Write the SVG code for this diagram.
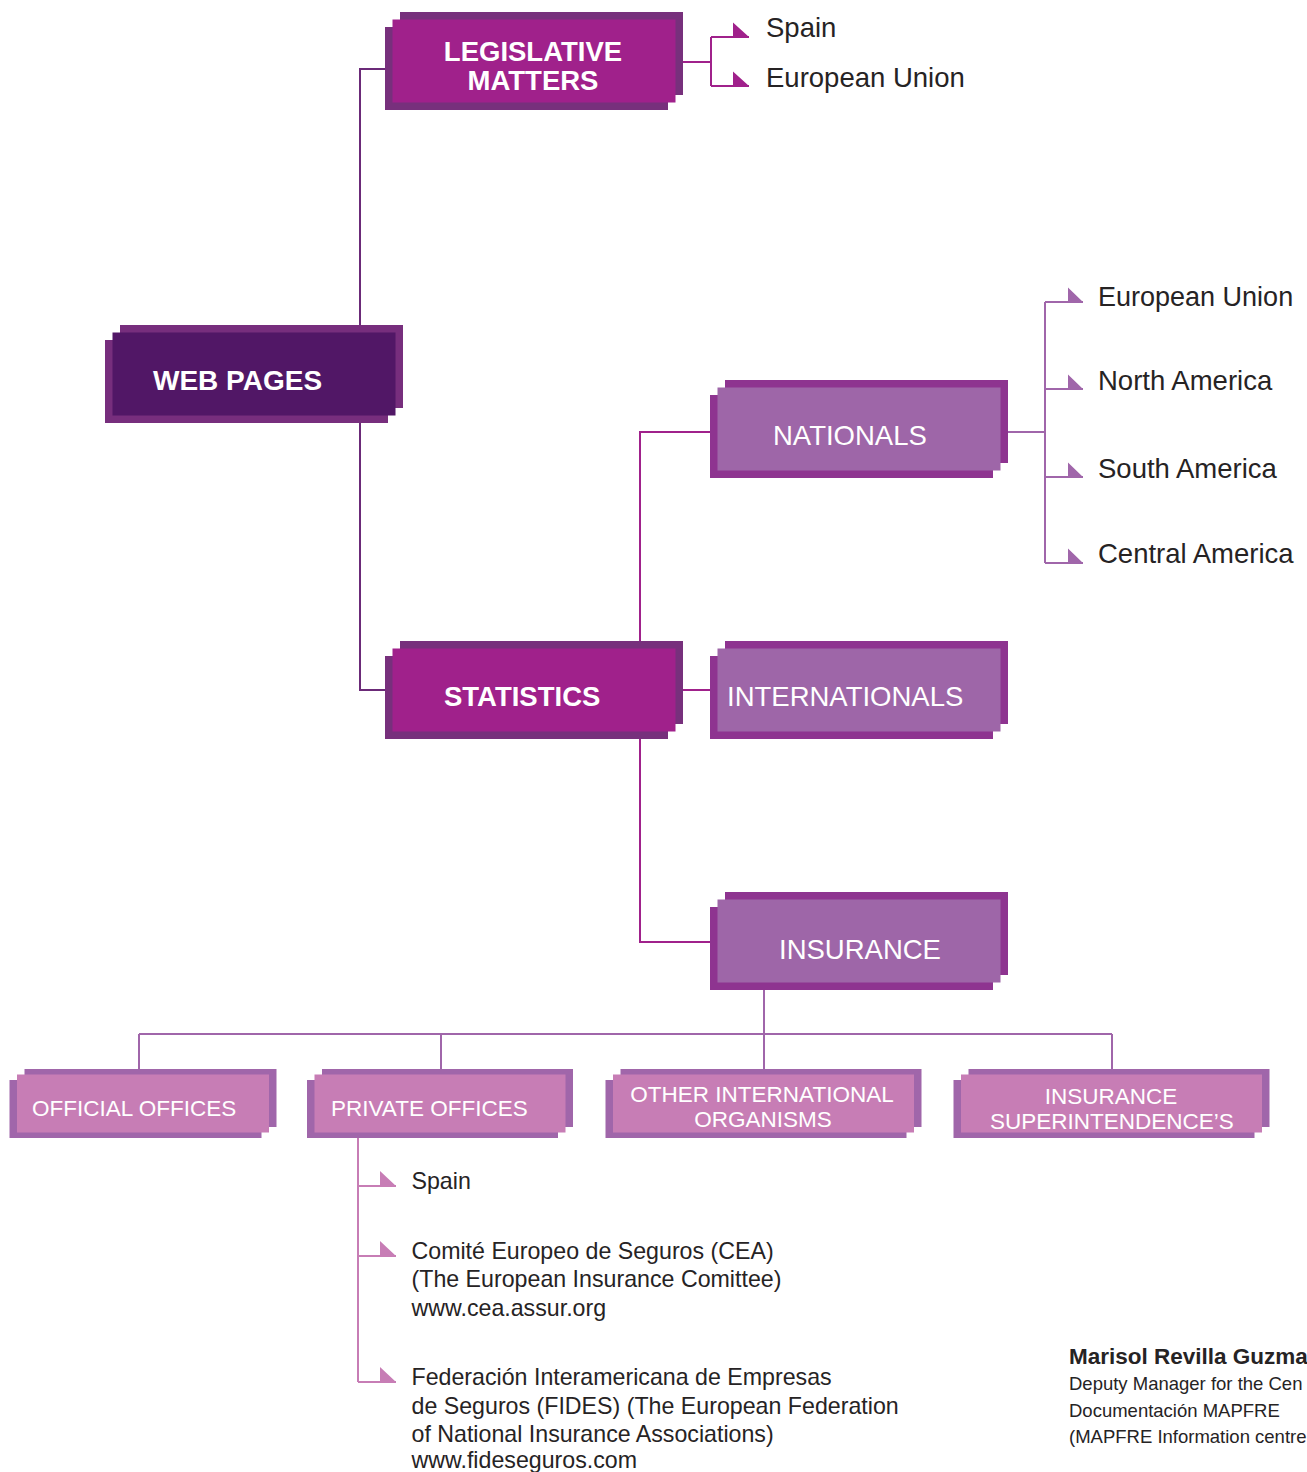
<svg xmlns="http://www.w3.org/2000/svg" width="1307" height="1472" viewBox="0 0 1307 1472">
<style>
text{font-family:"Liberation Sans",Arial,sans-serif}
.bt{fill:#fff;font-size:27.5px}
.b{font-weight:bold}
.st{fill:#fff;font-size:22.5px}
.lbl{fill:#262324;font-size:27.5px}
.lbs{fill:#262324;font-size:23.2px}
.au{fill:#262324;font-size:18.5px}
.c{fill:none;stroke-width:2}
.dk .m{fill:#511766}.dk .s{fill:#772E7D}
.mg .m{fill:#A0218B}.mg .s{fill:#77307C}
.lp .m{fill:#9E66A8}.lp .s{fill:#8E3490}
.pk .m{fill:#C77DB5}.pk .s{fill:#A066AA}
</style>
<g id="connectors">
<path class="c" stroke="#6B2A78" d="M385,69 H360 V690 H385"/>
<g stroke="#A0218B" fill="#A0218B">
<path class="c" d="M683,62 H711 M711,37 V86 M711,37 H749 M711,86 H749"/>
<path stroke="none" d="M733,22.5 L733,37 L749,37 Z M733,71.5 L733,86 L749,86 Z"/>
<path class="c" d="M640,641 V432 H710 M683,690 H710 M640,738 V942 H710"/>
</g>
<g stroke="#A066AA" fill="#A066AA">
<path class="c" d="M1007,432 H1045 M1045,302 V563 M1045,302 H1083 M1045,389 H1083 M1045,477 H1083 M1045,563 H1083"/>
<path stroke="none" d="M1068,287.5 L1068,302 L1083,302 Z M1068,374.5 L1068,389 L1083,389 Z M1068,462.5 L1068,477 L1083,477 Z M1068,548.5 L1068,563 L1083,563 Z"/>
<path class="c" d="M764,990 V1034 M139,1034 H1112 M139,1034 V1069 M441,1034 V1069 M764,1034 V1069 M1112,1034 V1069"/>
</g>
<g stroke="#C77DB5" fill="#C77DB5">
<path class="c" d="M358,1138 V1382 M358,1186 H396 M358,1256 H396 M358,1382 H396"/>
<path stroke="none" d="M380,1171 L380,1186 L396,1186 Z M380,1241 L380,1256 L396,1256 Z M380,1367 L380,1382 L396,1382 Z"/>
</g>
</g>
<g id="web-pages" class="dk">
<rect class="s" x="120" y="325" width="283" height="83"/>
<rect class="s" x="105" y="340" width="283" height="83"/>
<rect class="m" x="112.5" y="332.5" width="283" height="83"/>
<text class="bt b" x="153" y="390" style="font-size:28px">WEB PAGES</text>
</g>
<g id="legislative" class="mg">
<rect class="s" x="400" y="12" width="283" height="83"/>
<rect class="s" x="385" y="27" width="283" height="83"/>
<rect class="m" x="392.5" y="19.5" width="283" height="83"/>
<text class="bt b" x="533" y="61" text-anchor="middle">LEGISLATIVE</text>
<text class="bt b" x="533" y="90" text-anchor="middle">MATTERS</text>
</g>
<g id="statistics" class="mg">
<rect class="s" x="400" y="641" width="283" height="83"/>
<rect class="s" x="385" y="656" width="283" height="83"/>
<rect class="m" x="392.5" y="648.5" width="283" height="83"/>
<text class="bt b" x="444" y="706">STATISTICS</text>
</g>
<g id="nationals" class="lp">
<rect class="s" x="725" y="380" width="283" height="83"/>
<rect class="s" x="710" y="395" width="283" height="83"/>
<rect class="m" x="717.5" y="387.5" width="283" height="83"/>
<text class="bt" x="773" y="445">NATIONALS</text>
</g>
<g id="internationals" class="lp">
<rect class="s" x="725" y="641" width="283" height="83"/>
<rect class="s" x="710" y="656" width="283" height="83"/>
<rect class="m" x="717.5" y="648.5" width="283" height="83"/>
<text class="bt" x="727" y="706">INTERNATIONALS</text>
</g>
<g id="insurance" class="lp">
<rect class="s" x="725" y="892" width="283" height="83"/>
<rect class="s" x="710" y="907" width="283" height="83"/>
<rect class="m" x="717.5" y="899.5" width="283" height="83"/>
<text class="bt" x="779" y="959">INSURANCE</text>
</g>
<g id="official-offices" class="pk">
<rect class="s" x="24.5" y="1069" width="252" height="58"/>
<rect class="s" x="9.5" y="1080" width="252" height="58"/>
<rect class="m" x="17" y="1074.5" width="252" height="58"/>
<text class="st" x="32" y="1116">OFFICIAL OFFICES</text>
</g>
<g id="private-offices" class="pk">
<rect class="s" x="322" y="1069" width="251" height="58"/>
<rect class="s" x="307" y="1080" width="251" height="58"/>
<rect class="m" x="314.5" y="1074.5" width="251" height="58"/>
<text class="st" x="331" y="1116">PRIVATE OFFICES</text>
</g>
<g id="other-international" class="pk">
<rect class="s" x="620.5" y="1069" width="301" height="58"/>
<rect class="s" x="605.5" y="1080" width="301" height="58"/>
<rect class="m" x="613" y="1074.5" width="301" height="58"/>
<text class="st" x="762" y="1102" text-anchor="middle">OTHER INTERNATIONAL</text>
<text class="st" x="763" y="1127" text-anchor="middle">ORGANISMS</text>
</g>
<g id="insurance-superintendences" class="pk">
<rect class="s" x="968.5" y="1069" width="301" height="58"/>
<rect class="s" x="953.5" y="1080" width="301" height="58"/>
<rect class="m" x="961" y="1074.5" width="301" height="58"/>
<text class="st" x="1111" y="1104" text-anchor="middle">INSURANCE</text>
<text class="st" x="1112" y="1129" text-anchor="middle">SUPERINTENDENCE’S</text>
</g>
<g id="legislative-items">
<text class="lbl" x="766" y="37">Spain</text>
<text class="lbl" x="766" y="87">European Union</text>
</g>
<g id="nationals-items">
<text class="lbl" x="1098" y="305.5" style="font-size:27px">European Union</text>
<text class="lbl" x="1098" y="390">North America</text>
<text class="lbl" x="1098" y="478">South America</text>
<text class="lbl" x="1098" y="563">Central America</text>
</g>
<g id="private-items">
<text class="lbs" x="411.5" y="1189">Spain</text>
<text class="lbs" x="411.5" y="1258.5">Comité Europeo de Seguros (CEA)</text>
<text class="lbs" x="411.5" y="1287">(The European Insurance Comittee)</text>
<text class="lbs" x="411.5" y="1315.5">www.cea.assur.org</text>
<text class="lbs" x="411.5" y="1385">Federación Interamericana de Empresas</text>
<text class="lbs" x="411.5" y="1413.5">de Seguros (FIDES) (The European Federation</text>
<text class="lbs" x="411.5" y="1442">of National Insurance Associations)</text>
<text class="lbs" x="411.5" y="1468">www.fideseguros.com</text>
</g>
<g id="author">
<text class="au b" x="1069" y="1363.5" style="font-size:22.5px">Marisol Revilla Guzma</text>
<text class="au" x="1069" y="1390">Deputy Manager for the Cen</text>
<text class="au" x="1069" y="1416.5">Documentación MAPFRE</text>
<text class="au" x="1069" y="1443">(MAPFRE Information centre</text>
</g>
</svg>
